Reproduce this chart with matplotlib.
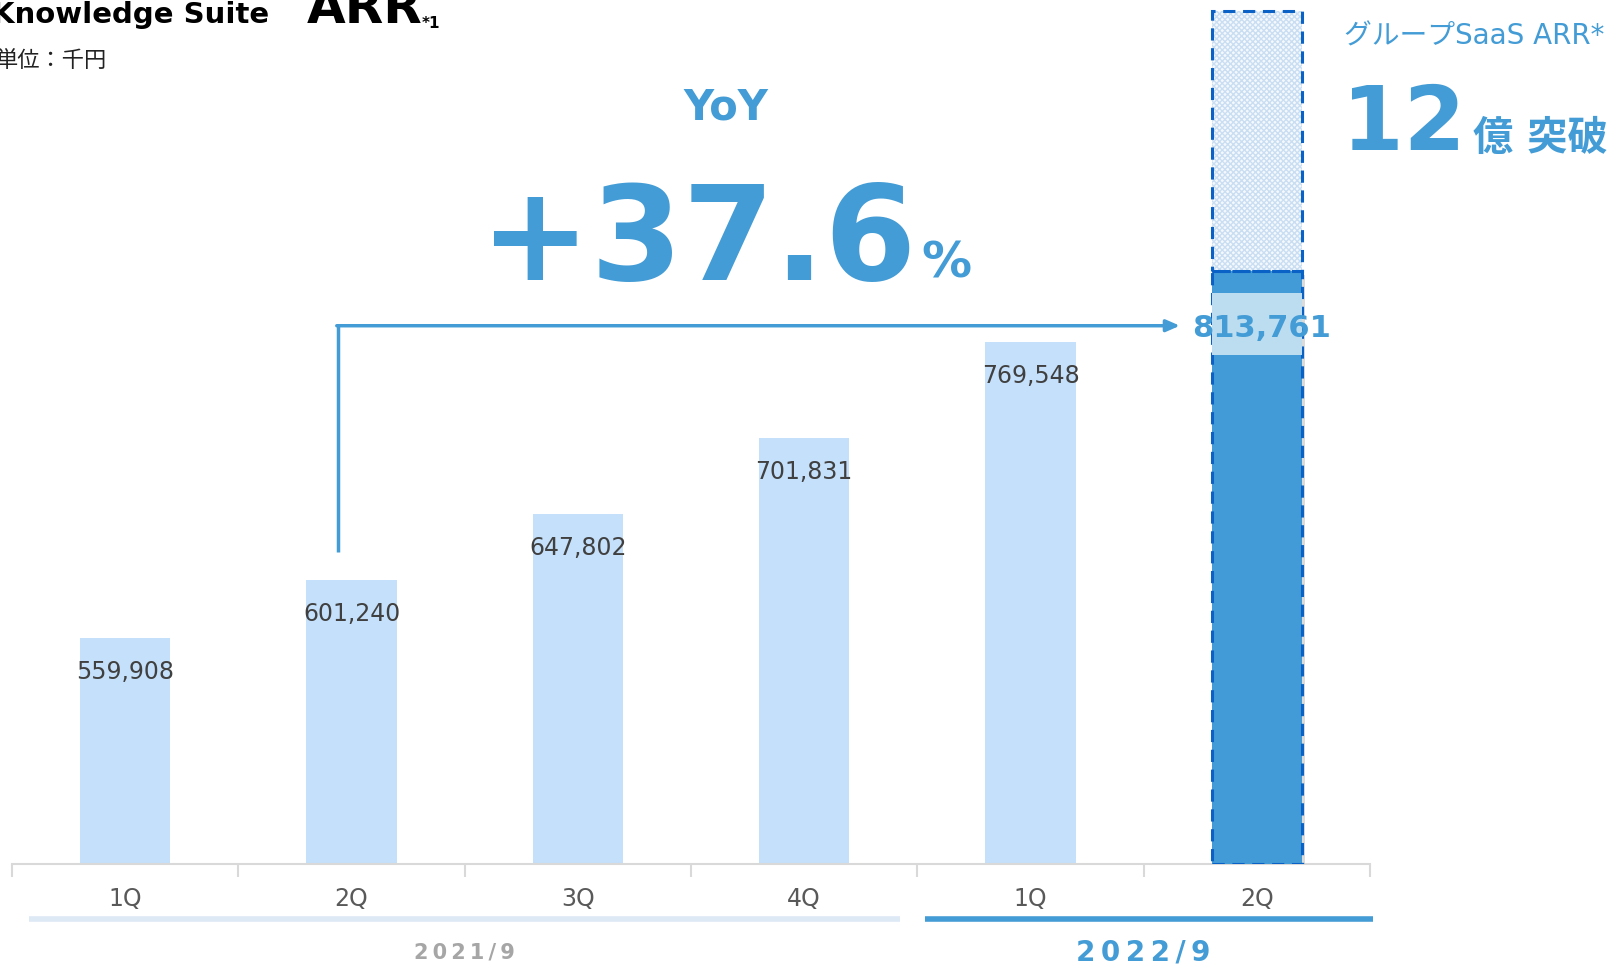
import numpy as np
import matplotlib
matplotlib.use('Agg')
import matplotlib.pyplot as plt
import matplotlib.patheffects as pe

plt.rcParams['font.family'] = ['DejaVu Sans', 'Noto Sans CJK JP']

# data
quarters = ['1Q', '2Q', '3Q', '4Q', '1Q', '2Q']
fiscal_years = ['2021/9', '2022/9']
year_spans = [(0, 3), (4, 5)]
arr_values = [559908, 601240, 647802, 701831, 769548, 813761]
group_extra = 184000   # hatched top block on the last bar (group SaaS ARR, not to scale)
yoy = '+37.6'

BLUE = '#439cd5'
LIGHT = '#c5e0fa'
DASH = '#0b62c6'
y_floor = 400000

fig = plt.figure(figsize=(16.17, 9.67), dpi=100)
W, H = 1617, 967
ax = fig.add_axes([12 / W, 1 - 864 / H, 1358 / W, 864 / H])
ax.set_xlim(-0.5, 5.5)
ax.set_ylim(y_floor, 1011900)

x = np.arange(len(arr_values))
heights = [v - y_floor for v in arr_values]

# past quarters
ax.bar(x[:-1], heights[:-1], bottom=y_floor, width=0.4, color=LIGHT, zorder=2)

# latest quarter: dark bar + hatched block above
last = x[-1]
top = arr_values[-1] + 6000  # dashed divider sits a touch above the value
shadow = [pe.SimplePatchShadow(offset=(2, -3), shadow_rgbFace='#999999', alpha=0.35), pe.Normal()]
ax.bar(last, top - y_floor, bottom=y_floor, width=0.4, color='#429bd6', zorder=3,
       path_effects=shadow)
ax.bar(last, group_extra, bottom=top, width=0.4, facecolor='#f5f9fd',
       edgecolor='#c9def2', hatch='xxxxxx', linewidth=0, zorder=3)
ax.bar(last, top - y_floor, bottom=y_floor, width=0.4, fill=False, edgecolor=DASH,
       linestyle=(0, (4, 2.5)), linewidth=2.2, zorder=4)
ax.bar(last, group_extra, bottom=top, width=0.4, fill=False, edgecolor=DASH,
       linestyle=(0, (4, 2.5)), linewidth=2.2, zorder=4)

# value labels inside the bars
for xi, v in zip(x[:-1], arr_values[:-1]):
    ax.annotate(f'{v:,}', (xi, v), xytext=(0, -34), textcoords='offset pixels',
                ha='center', va='center', fontsize=17, color='#404040', zorder=5)

# highlighted label band on last bar
xt = ax.get_xaxis_transform()
ax.add_patch(plt.Rectangle((last - 0.2, 0.589), 0.4, 0.072, transform=xt,
                           facecolor='#bcdcf0', edgecolor='none', zorder=5))
ax.text(last + 0.02, 0.620, f'{arr_values[-1]:,}', transform=xt, ha='center',
        va='center', fontsize=22, fontweight='bold', color=BLUE, zorder=6)

# YoY arrow from 2Q of previous year
ax.plot([0.94, 0.94], [0.361, 0.623], transform=xt, color=BLUE, lw=2.5,
        solid_capstyle='butt', zorder=5)
ax.annotate('', xy=(4.66, 0.623), xycoords=xt, xytext=(0.935, 0.623), textcoords=xt,
            arrowprops=dict(arrowstyle='-|>,head_length=0.8,head_width=0.35',
                            color=BLUE, lw=2.5, shrinkA=0, shrinkB=0), zorder=5)

# axis styling
for s in ['top', 'left', 'right']:
    ax.spines[s].set_visible(False)
ax.spines['bottom'].set_color('#d9d9d9')
ax.spines['bottom'].set_linewidth(1.5)
ax.set_yticks([])
ax.set_xticks(np.arange(-0.5, 6, 1))
ax.set_xticklabels([])
ax.tick_params(axis='x', direction='out', length=9, width=1.5, color='#d9d9d9')

for xi, q in zip(x, quarters):
    ax.text(xi, -0.0405, q, transform=xt, ha='center', va='center', fontsize=17,
            color='#595959')

# fiscal year bands
ax.plot([-0.425, 3.424], [-0.0637, -0.0637], transform=xt, color='#dde9f5', lw=4,
        solid_capstyle='butt', clip_on=False)
ax.plot([3.534, 5.514], [-0.0637, -0.0637], transform=xt, color=BLUE, lw=4,
        solid_capstyle='butt', clip_on=False)
spaced = lambda s: '\u2009'.join(s)
for (a, b), fy, col, fs in zip(year_spans, fiscal_years, ['#a6a6a6', BLUE], [15, 20]):
    ax.text((a + b) / 2, -0.103, spaced(fy), transform=xt, ha='center', va='center',
            fontsize=fs, fontweight='bold', color=col)

# headline texts
fig.text(726 / W, 1 - 108 / H, 'YoY', ha='center', va='center', fontsize=30,
         fontweight='bold', color=BLUE)
fig.text(916 / W, 1 - 280 / H, yoy, ha='right', va='baseline', fontsize=95,
         fontweight='bold', color=BLUE)
fig.text(921 / W, 1 - 278 / H, '%', ha='left', va='baseline', fontsize=36,
         fontweight='bold', color=BLUE)

fig.text(1344 / W, 1 - 45 / H, 'グループSaaS ARR*', ha='left', va='baseline',
         fontsize=20, color=BLUE)
fig.text(1466 / W, 1 - 150 / H, '12', ha='right', va='baseline', fontsize=64,
         fontweight='bold', color=BLUE)
fig.text(1473 / W, 1 - 150 / H, '億 突破', ha='left', va='baseline', fontsize=29,
         fontweight='bold', color=BLUE)

# title
fig.text(-8 / W, 1 - 23 / H, 'Knowledge Suite', ha='left', va='baseline', fontsize=21,
         fontweight='bold', color='black')
fig.text(307 / W, 1 - 23 / H, 'ARR', ha='left', va='baseline', fontsize=36,
         fontweight='bold', color='black')
fig.text(422 / W, 1 - 28 / H, '*1', ha='left', va='baseline', fontsize=11,
         fontweight='bold', color='black')
fig.text(-4 / W, 1 - 67 / H, '単位：千円', ha='left', va='baseline', fontsize=16,
         color='#222222')

fig.savefig('out.png', dpi=100)
